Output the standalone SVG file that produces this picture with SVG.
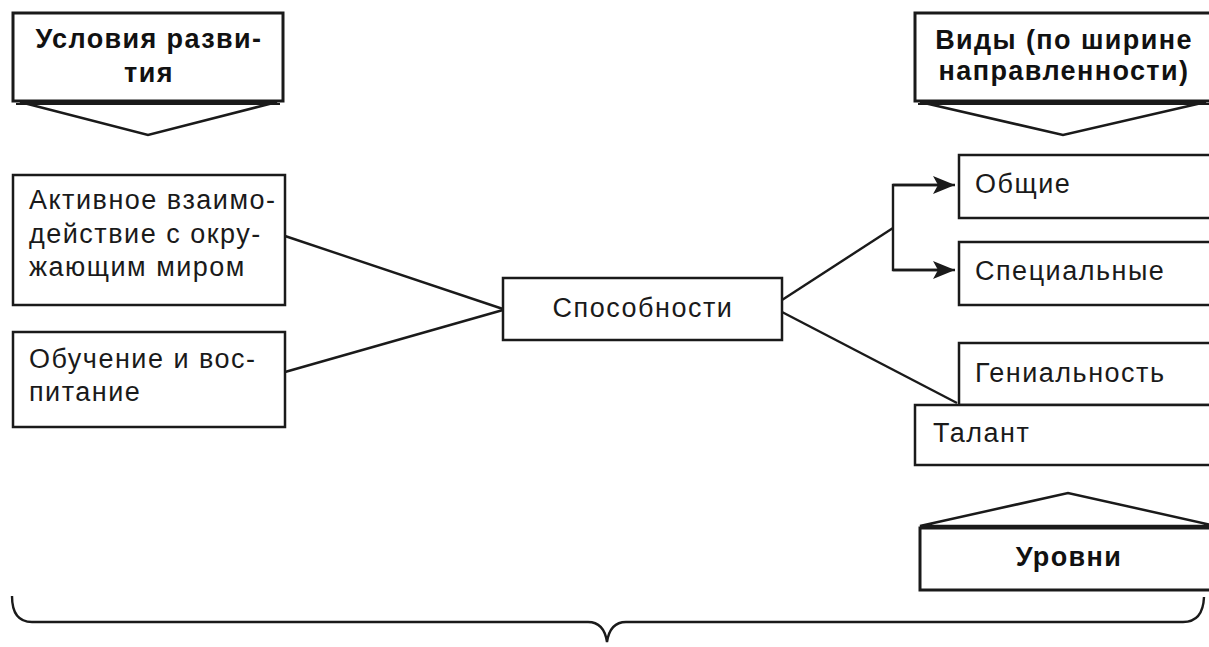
<svg xmlns="http://www.w3.org/2000/svg" width="1209" height="647" viewBox="0 0 1209 647">
<style>
.box{fill:#fff;stroke:#1a1a1a;stroke-width:2.5}
.hdr{fill:#fff;stroke:#1a1a1a;stroke-width:3}
.tri{fill:#fff;stroke:#1a1a1a;stroke-width:2.5;stroke-linejoin:miter}
.t{font-family:"Liberation Sans",Arial,sans-serif;font-size:27px;letter-spacing:1.5px;fill:#1a1a1a}
.b{font-family:"Liberation Sans",Arial,sans-serif;font-size:27px;letter-spacing:1.4px;font-weight:bold;fill:#111}
.c{text-anchor:middle}
.ln{fill:none;stroke:#1a1a1a;stroke-width:2.4}
</style>
<defs>
<marker id="arrow" viewBox="0 0 22 18" refX="22" refY="9" markerWidth="22" markerHeight="18" orient="auto" markerUnits="userSpaceOnUse">
<path d="M0,0 L22,9 L0,18 L5,9 z" fill="#1a1a1a"/>
</marker>
</defs>
<rect width="1209" height="647" fill="#fff"/>

<g id="connectors">
<line class="ln" x1="285" y1="236" x2="503" y2="309"/>
<line class="ln" x1="285" y1="372" x2="503" y2="310"/>
<line class="ln" x1="782" y1="300" x2="893" y2="228"/>
<polyline class="ln" points="945,185 893,185 893,270 945,270"/>
<line class="ln" x1="893" y1="185" x2="955" y2="185" marker-end="url(#arrow)"/>
<line class="ln" x1="893" y1="270" x2="955" y2="270" marker-end="url(#arrow)"/>
<line class="ln" x1="782" y1="312" x2="957" y2="403"/>
</g>

<g id="node-usloviya">
<polygon class="tri" points="20,102 148,135 277,102"/>
<rect class="hdr" x="13" y="13" width="270" height="88"/>
<line x1="16" y1="104" x2="280" y2="104" stroke="#1a1a1a" stroke-width="2"/>
<text class="b c" x="149" y="48">Условия разви-</text>
<text class="b c" x="149" y="82">тия</text>
</g>

<g id="node-vidy">
<polygon class="tri" points="920,102 1063,135 1206,102"/>
<rect class="hdr" x="915" y="13" width="300" height="88"/>
<line x1="918" y1="104" x2="1209" y2="104" stroke="#1a1a1a" stroke-width="2"/>
<text class="b c" x="1064" y="49">Виды (по ширине</text>
<text class="b c" x="1064" y="80">направленности)</text>
</g>

<g id="node-aktivnoe">
<rect class="box" x="13" y="175" width="272" height="130"/>
<text class="t" x="29" y="209">Активное взаимо-</text>
<text class="t" x="29" y="243">действие с окру-</text>
<text class="t" x="29" y="276">жающим миром</text>
</g>

<g id="node-obuchenie">
<rect class="box" x="13" y="332" width="272" height="95"/>
<text class="t" x="29" y="368">Обучение и вос-</text>
<text class="t" x="29" y="401">питание</text>
</g>

<g id="node-sposobnosti">
<rect class="box" x="503" y="278" width="279" height="62"/>
<text class="t c" x="643" y="317">Способности</text>
</g>

<g id="node-obshchie">
<rect class="box" x="959" y="155" width="260" height="63"/>
<text class="t" x="975" y="193">Общие</text>
</g>

<g id="node-specialnye">
<rect class="box" x="959" y="242" width="260" height="63"/>
<text class="t" x="975" y="280">Специальные</text>
</g>

<g id="node-genialnost">
<rect class="box" x="959" y="343" width="260" height="62"/>
<text class="t" x="975" y="382">Гениальность</text>
</g>

<g id="node-talant">
<rect class="box" x="915" y="405" width="300" height="60"/>
<text class="t" x="933" y="442">Талант</text>
</g>

<g id="node-urovni">
<polygon class="tri" points="920,526 1068,493 1216,526"/>
<rect class="hdr" x="920" y="528" width="295" height="62"/>
<text class="b c" x="1069" y="566">Уровни</text>
</g>

<g id="brace">
<path class="ln" d="M12,596 Q12,622 32,622 L588,622 Q604,622 607,642 Q610,622 626,622 L1183,622 Q1203,622 1204,597"/>
</g>
</svg>
